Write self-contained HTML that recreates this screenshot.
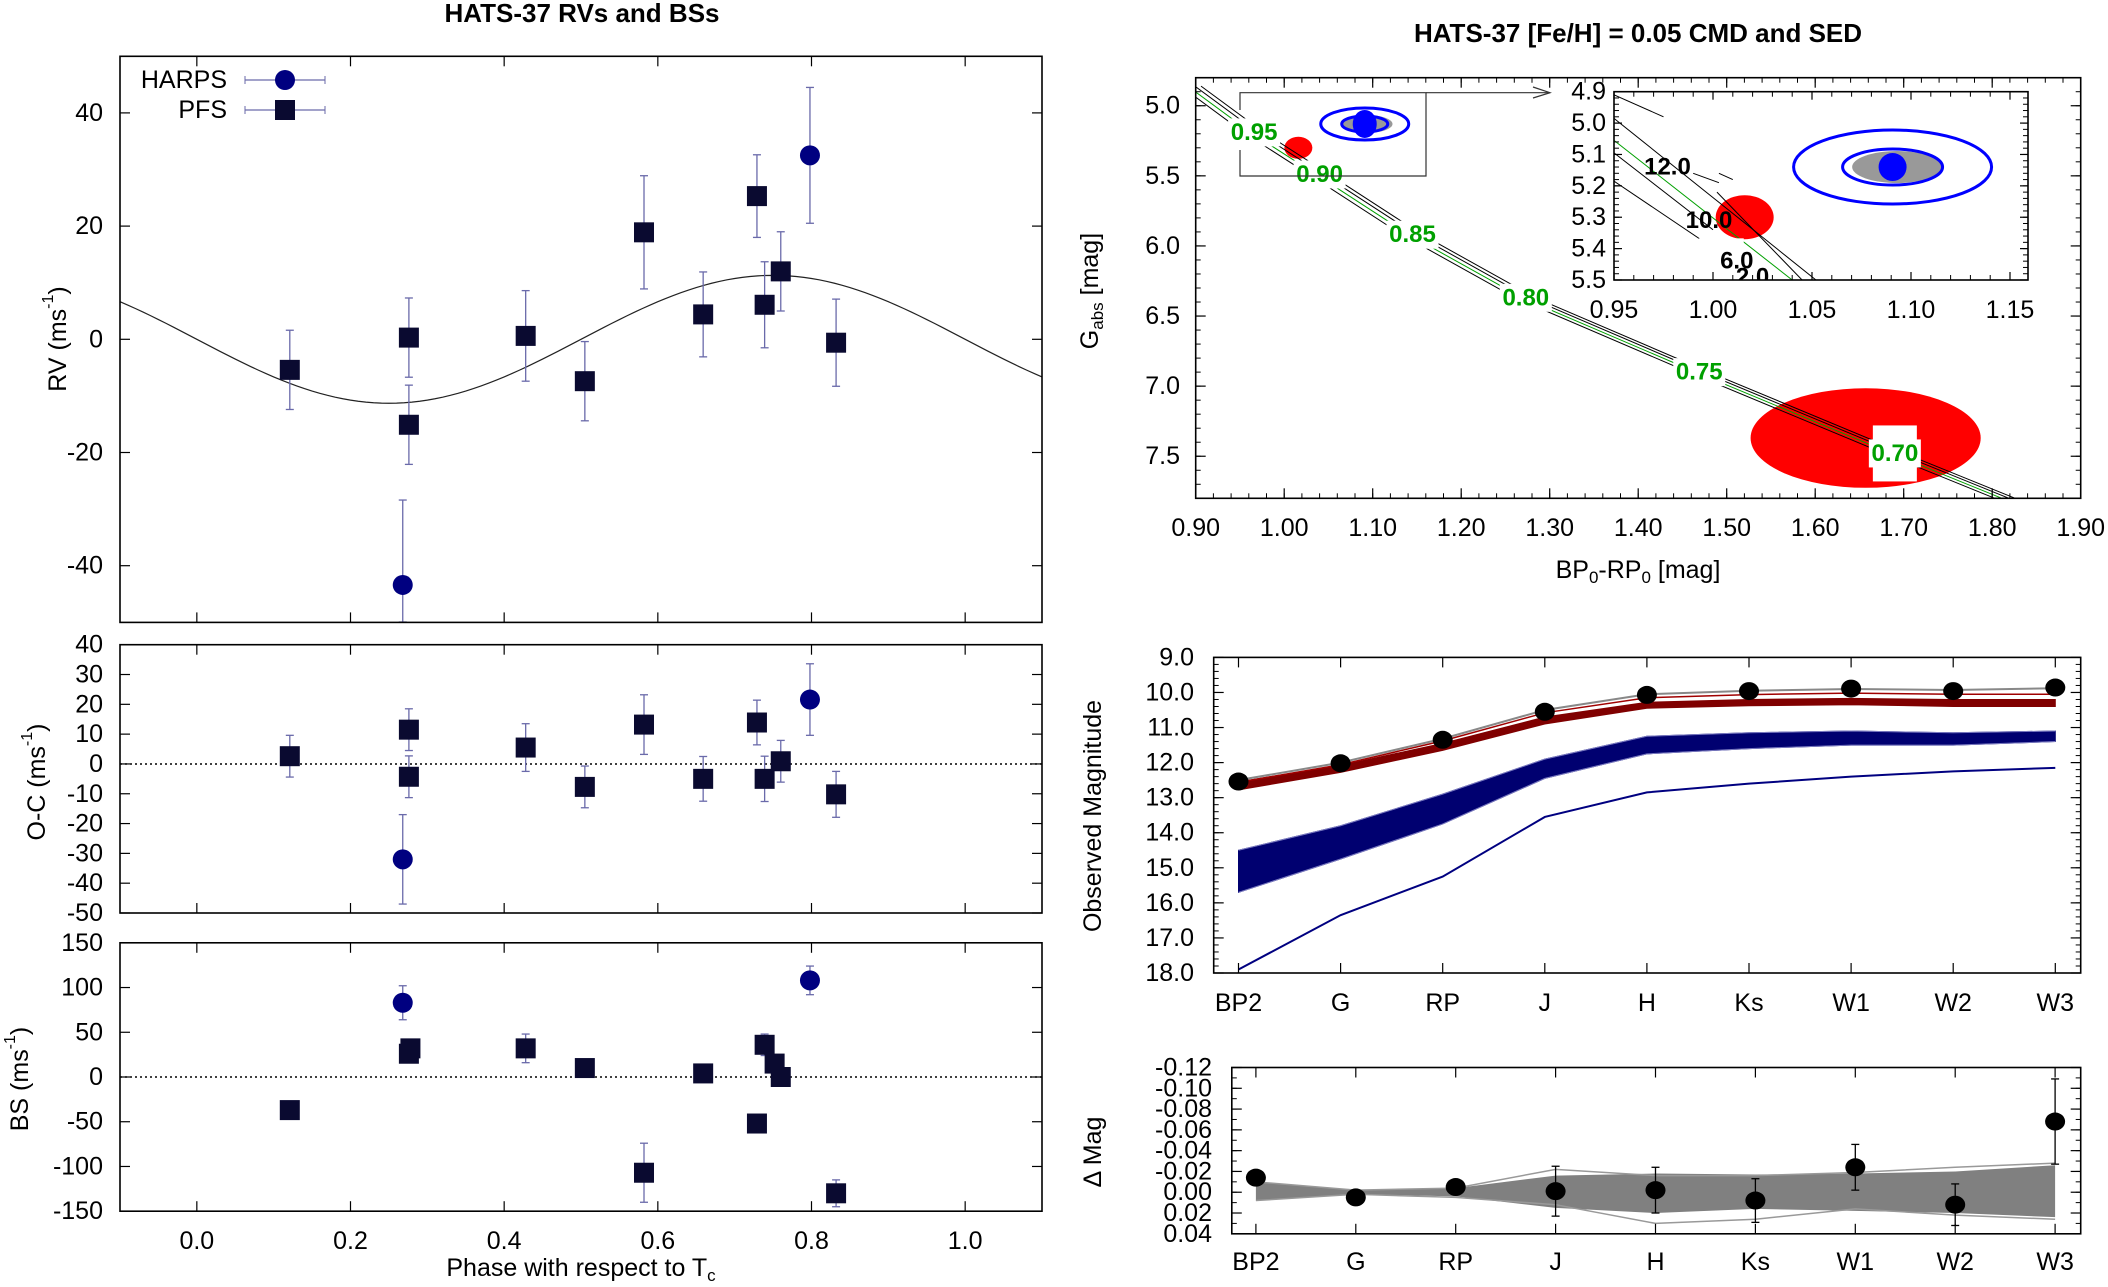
<!DOCTYPE html>
<html><head><meta charset="utf-8">
<style>
html,body{margin:0;padding:0;background:#fff;}
svg{display:block;font-family:"Liberation Sans",sans-serif;}
</style></head>
<body>
<svg id="fig" width="2108" height="1287" viewBox="0 0 2108 1287" xmlns="http://www.w3.org/2000/svg">
<text x="582" y="22" font-size="26" font-weight="bold" text-anchor="middle">HATS-37 RVs and BSs</text>
<text x="1638" y="42" font-size="26" font-weight="bold" text-anchor="middle">HATS-37 [Fe/H] = 0.05 CMD and SED</text>
</svg>
<script>
// ---------- RV data ----------
const pfsPhase = [0.121,0.276,0.276,0.428,0.505,0.582,0.659,0.729,0.739,0.760,0.832];
const pfsRV    = [-5.4,0.3,-15.1,0.6,-7.4,18.9,4.4,25.3,6.1,12.0,-0.6];
const pfsRVErr = [7,7,7,8,7,10,7.5,7.3,7.6,7,7.7];
const harpsPhase = [0.268,0.798];
const harpsRV    = [-43.4,32.5];
const harpsRVErr = [15,12];
const modelK = 11.3;
const pfsOC    = [2.6,-4.3,11.5,5.5,-7.7,13.2,-5.0,13.9,-5.0,0.9,-10.2];
const pfsOCErr = [7,7,7,8,7,10,7.5,7.5,7.6,7,7.7];
const harpsOC    = [-32.0,21.6];
const harpsOCErr = [15,12];
const pfsBSPhase = [0.121,0.276,0.278,0.428,0.505,0.582,0.659,0.729,0.739,0.752,0.760,0.832];
const pfsBS      = [-37,26,32,32,10,-107,4,-52,36,15,0,-130];
const pfsBSErr   = [5,5,5,16,6,33,3,3,12,3,3,15];
const harpsBS    = [83,108];
const harpsBSErr = [19,16];
const phaseTicks = [0.0,0.2,0.4,0.6,0.8,1.0];
const rvTicks = [40,20,0,-20,-40];
const ocTicks = [40,30,20,10,0,-10,-20,-30,-40,-50];
const bsTicks = [150,100,50,0,-50,-100,-150];
// ---------- CMD data ----------
const cmdXTicks = [0.90,1.00,1.10,1.20,1.30,1.40,1.50,1.60,1.70,1.80,1.90];
const cmdYTicks = [5.0,5.5,6.0,6.5,7.0,7.5];
const trackColor = [0.895,0.966,1.04,1.145,1.273,1.469,1.69,1.815];
const trackMag   = [4.86,5.19,5.49,5.92,6.37,6.90,7.48,7.80];
const trackOffsets = [-0.012,-0.004,0.004,0.011];
const massLabels = ["0.95","0.90","0.85","0.80","0.75","0.70"];
const massColor  = [0.966,1.04,1.145,1.273,1.469,1.69];
const massMag    = [5.19,5.49,5.92,6.37,6.90,7.48];
const insetXTicks = [0.95,1.00,1.05,1.10,1.15];
const insetYTicks = [4.9,5.0,5.1,5.2,5.3,5.4,5.5];
const ageLabels = ["12.0","10.0","6.0","2.0"];
const ageColor  = [0.977,0.998,1.012,1.020];
const ageMag    = [5.14,5.31,5.44,5.49];
// ---------- SED data ----------
const bands = ["BP2","G","RP","J","H","Ks","W1","W2","W3"];
const obsMag = [12.54,12.02,11.35,10.55,10.07,9.96,9.89,9.96,9.86];
const grayMag = [12.50,12.00,11.32,10.50,10.05,9.95,9.90,9.93,9.88];
const redThin = [12.56,12.06,11.38,10.58,10.15,10.06,10.02,10.05,10.05];
const redTop  = [12.55,12.08,11.45,10.70,10.28,10.20,10.17,10.20,10.20];
const redBot  = [12.78,12.28,11.65,10.90,10.45,10.38,10.35,10.40,10.40];
const blueTop = [14.5,13.8,12.9,11.9,11.25,11.15,11.1,11.15,11.1];
const blueBot = [15.7,14.75,13.75,12.45,11.75,11.6,11.5,11.5,11.4];
const blueLine = [17.9,16.35,15.25,13.55,12.85,12.6,12.4,12.25,12.15];
const sedTicks = [9,10,11,12,13,14,15,16,17,18];
const resid = [-0.014,0.005,-0.005,-0.001,-0.002,0.008,-0.024,0.012,-0.068];
const residErr = [0,0,0,0.024,0.022,0.021,0.022,0.020,0.041];
const bandUp  = [-0.010,-0.002,-0.004,-0.016,-0.018,-0.017,-0.018,-0.020,-0.026];
const bandLo  = [0.008,0.002,0.004,0.015,0.020,0.016,0.018,0.020,0.024];
const outUp   = [-0.010,-0.002,-0.004,-0.022,-0.016,-0.016,-0.019,-0.024,-0.028];
const outLo   = [0.008,0.002,0.005,0.012,0.030,0.026,0.016,0.022,0.026];
const residTicks = [-0.12,-0.10,-0.08,-0.06,-0.04,-0.02,0.00,0.02,0.04];

const svg = document.getElementById('fig');
const NS = 'http://www.w3.org/2000/svg';
function mk(tag, attrs, parent){ const e=document.createElementNS(NS,tag); for(const k in attrs) e.setAttribute(k,attrs[k]); (parent||svg).appendChild(e); return e; }
function txt(s,x,y,size,anchor,extra){ const t=mk('text',Object.assign({x:x,y:y,'font-size':size,'text-anchor':anchor||'middle','dominant-baseline':'central'},extra||{})); t.textContent=s; return t; }

function frame(name,L,R,T,B,xt,X,yt,Y,xminor,yminor,tl){
  const g=mk('g',{});
  
  
  tl=tl||10;
  xt.forEach(v=>{const x=X(v); mk('line',{x1:x,x2:x,y1:B,y2:B-tl,stroke:'#000','stroke-width':1.2},g); mk('line',{x1:x,x2:x,y1:T,y2:T+tl,stroke:'#000','stroke-width':1.2},g);});
  yt.forEach(v=>{const y=Y(v); mk('line',{x1:L,x2:L+tl,y1:y,y2:y,stroke:'#000','stroke-width':1.2},g); mk('line',{x1:R,x2:R-tl,y1:y,y2:y,stroke:'#000','stroke-width':1.2},g);});
  (xminor||[]).forEach(v=>{const x=X(v); mk('line',{x1:x,x2:x,y1:B,y2:B-5,stroke:'#000','stroke-width':1},g); mk('line',{x1:x,x2:x,y1:T,y2:T+5,stroke:'#000','stroke-width':1},g);});
  (yminor||[]).forEach(v=>{const y=Y(v); mk('line',{x1:L,x2:L+5,y1:y,y2:y,stroke:'#000','stroke-width':1},g); mk('line',{x1:R,x2:R-5,y1:y,y2:y,stroke:'#000','stroke-width':1},g);});
  mk('rect',{x:L,y:T,width:R-L,height:B-T,fill:'none',stroke:'#000','stroke-width':1.6},g);
  return g;
}
function ebar(x,y1,y2,col){
  mk('line',{x1:x,x2:x,y1:y1,y2:y2,stroke:col,'stroke-width':1.3});
  mk('line',{x1:x-4,x2:x+4,y1:y1,y2:y1,stroke:col,'stroke-width':1.3});
  mk('line',{x1:x-4,x2:x+4,y1:y2,y2:y2,stroke:col,'stroke-width':1.3});
}
const EB='#6a6aaa';

// ================= LEFT PANELS =================
const LL=120, LR=1042;
const PX = p => LL+(p+0.1)/1.2*(LR-LL);
const Y1 = v => 56.3+(50-v)/100*566;
const Y2 = v => 644.7+(40-v)/90*268.3;
const Y3 = v => 942.8+(150-v)/300*268.4;

let d;
let pts='';
for(let i=0;i<=120;i++){ const p=-0.1+i*0.01; pts+=PX(p)+','+Y1(-modelK*Math.sin(2*Math.PI*p))+' '; }
d=mk('polyline',{points:pts,fill:'none',stroke:'#222','stroke-width':1.2});


pfsPhase.forEach((p,i)=>{
  ebar(PX(p),Y1(pfsRV[i]+pfsRVErr[i]),Y1(pfsRV[i]-pfsRVErr[i]),EB);
  const r=mk('rect',{x:PX(p)-10,y:Y1(pfsRV[i])-10,width:20,height:20,fill:'#0a0a30'});
  
  
});
harpsPhase.forEach((p,i)=>{
  ebar(PX(p),Math.max(56,Y1(harpsRV[i]+harpsRVErr[i])),Math.min(622,Y1(harpsRV[i]-harpsRVErr[i])),EB);
  const c=mk('ellipse',{cx:PX(p),cy:Y1(harpsRV[i]),rx:10,ry:10,fill:'#000080'});
  
  
});
frame('rv-axes',LL,LR,56.3,622.4,phaseTicks,PX,rvTicks,Y1);
rvTicks.forEach(v=>{const t=txt(String(v),103,Y1(v),25,'end');  });
d=txt('',58,339,25,'middle',{transform:'rotate(-90 58 339)'});
d.innerHTML='RV (ms<tspan font-size="16" dy="-10">-1</tspan><tspan dy="10">)</tspan>';


d=txt('HARPS',227,80,25,'end');


d=txt('PFS',227,110,25,'end');


[80,110].forEach(y=>{mk('line',{x1:245,x2:325,y1:y,y2:y,stroke:EB,'stroke-width':1.3});mk('line',{x1:245,x2:245,y1:y-4,y2:y+4,stroke:EB});mk('line',{x1:325,x2:325,y1:y-4,y2:y+4,stroke:EB});});
d=mk('ellipse',{cx:285,cy:80,rx:10,ry:10,fill:'#000080'});


d=mk('rect',{x:275,y:100,width:20,height:20,fill:'#0a0a30'});



// O-C panel
d=mk('line',{x1:LL,x2:LR,y1:Y2(0),y2:Y2(0),stroke:'#000','stroke-width':1.5,'stroke-dasharray':'2,3'});


pfsPhase.forEach((p,i)=>{
  ebar(PX(p),Y2(pfsOC[i]+pfsOCErr[i]),Y2(pfsOC[i]-pfsOCErr[i]),EB);
  const r=mk('rect',{x:PX(p)-10,y:Y2(pfsOC[i])-10,width:20,height:20,fill:'#0a0a30'});
  
  
});
harpsPhase.forEach((p,i)=>{
  ebar(PX(p),Y2(harpsOC[i]+harpsOCErr[i]),Y2(harpsOC[i]-harpsOCErr[i]),EB);
  const c=mk('ellipse',{cx:PX(p),cy:Y2(harpsOC[i]),rx:10,ry:10,fill:'#000080'});
  
  
});
frame('oc-axes',LL,LR,644.7,913,phaseTicks,PX,ocTicks,Y2);
ocTicks.forEach(v=>{const t=txt(String(v),103,Y2(v),25,'end');  });
d=txt('',37,782,25,'middle',{transform:'rotate(-90 37 782)'});
d.innerHTML='O-C (ms<tspan font-size="16" dy="-10">-1</tspan><tspan dy="10">)</tspan>';



// BS panel
d=mk('line',{x1:LL,x2:LR,y1:Y3(0),y2:Y3(0),stroke:'#000','stroke-width':1.5,'stroke-dasharray':'2,3'});


pfsBSPhase.forEach((p,i)=>{
  ebar(PX(p),Y3(pfsBS[i]+pfsBSErr[i]),Y3(pfsBS[i]-pfsBSErr[i]),EB);
  const r=mk('rect',{x:PX(p)-10,y:Y3(pfsBS[i])-10,width:20,height:20,fill:'#0a0a30'});
  
  
});
harpsPhase.forEach((p,i)=>{
  ebar(PX(p),Y3(harpsBS[i]+harpsBSErr[i]),Y3(harpsBS[i]-harpsBSErr[i]),EB);
  const c=mk('ellipse',{cx:PX(p),cy:Y3(harpsBS[i]),rx:10,ry:10,fill:'#000080'});
  
  
});
frame('bs-axes',LL,LR,942.8,1211.2,phaseTicks,PX,bsTicks,Y3);
bsTicks.forEach(v=>{const t=txt(String(v),103,Y3(v),25,'end');  });
phaseTicks.forEach(v=>{const t=txt(v.toFixed(1),PX(v),1241,25,'middle');  });
d=txt('',20,1079,25,'middle',{transform:'rotate(-90 20 1079)'});
d.innerHTML='BS (ms<tspan font-size="16" dy="-10">-1</tspan><tspan dy="10">)</tspan>';


d=txt('',581,1268,25,'middle');
d.innerHTML='Phase with respect to T<tspan font-size="17" dy="7">c</tspan>';



// ================= CMD =================
const CL=1195.7, CR=2080.7, CT=77.7, CB=498.3;
const CX = c => CL+(c-0.9)*885;
const CY = g => CT+(g-4.8)/3.0*(CB-CT);
const cmdClip=mk('clipPath',{id:'cmdclip'}); mk('rect',{x:CL,y:CT,width:CR-CL,height:CB-CT},cmdClip);
const cg=mk('g',{'clip-path':'url(#cmdclip)'});


d=mk('ellipse',{cx:CX(1.657),cy:CY(7.37),rx:0.13*885,ry:0.355/3*420.6,fill:'#ff0000'},cg);


d=mk('ellipse',{cx:CX(1.016),cy:CY(5.30),rx:14,ry:11,fill:'#ff0000'},cg);


trackOffsets.forEach((o,k)=>{
  const p=trackColor.map((c,i)=>CX(c+o)+','+CY(trackMag[i])).join(' ');
  const l=mk('polyline',{points:p,fill:'none',stroke:k==1?'#00a000':'#000','stroke-width':1},cg);
  
  
});
massLabels.forEach((s,i)=>{
  const x=CX(massColor[i]), y=CY(massMag[i]);
  mk('rect',{x:x-26,y:y-14,width:52,height:28,fill:'#fff'},cg);
  const t=txt(s,x,y,24,'middle',{fill:'#00a000','font-weight':'bold'});
  cg.appendChild(t);
  
  
});
mk('rect',{x:CX(1.69)-22,y:CY(7.48)-28,width:44,height:56,fill:'#fff'},cg);
d=txt('0.70',CX(1.69),CY(7.48),24,'middle',{fill:'#00a000','font-weight':'bold'});
cg.appendChild(d);


d=mk('ellipse',{cx:CX(1.091),cy:CY(5.13),rx:44,ry:16,fill:'none',stroke:'#0000ff','stroke-width':3},cg);


mk('ellipse',{cx:CX(1.093),cy:CY(5.13),rx:26,ry:9,fill:'#999'},cg);
mk('ellipse',{cx:CX(1.091),cy:CY(5.13),rx:23,ry:8,fill:'none',stroke:'#0000ff','stroke-width':3},cg);
d=mk('ellipse',{cx:CX(1.091),cy:CY(5.13),rx:12,ry:14,fill:'#0000ff'},cg);


d=mk('polyline',{points:`1240,110 1240,92.7 1426,92.7 1426,176 1240,176 1240,150`,fill:'none',stroke:'#333','stroke-width':1.2});


d=mk('polyline',{points:`1426,92.7 1550,92.7`,fill:'none',stroke:'#333','stroke-width':1.2});


mk('polyline',{points:`1533,87 1550,92.7 1533,98`,fill:'none',stroke:'#333','stroke-width':1.2});
const cxMinor=[]; for(let v=0.92;v<1.9;v+=0.02) cxMinor.push(+v.toFixed(2));
const cyMinor=[]; for(let v=4.8;v<=7.8;v+=0.1) cyMinor.push(+v.toFixed(1));
frame('cmd-axes',CL,CR,CT,CB,cmdXTicks,CX,cmdYTicks,CY,cxMinor,cyMinor,10);
cmdXTicks.forEach(v=>{const t=txt(v.toFixed(2),CX(v),528,25,'middle');  });
cmdYTicks.forEach(v=>{const t=txt(v.toFixed(1),1180,CY(v),25,'end');  });
d=txt('',1090,291,25,'middle',{transform:'rotate(-90 1090 291)'});
d.innerHTML='G<tspan font-size="17" dy="7">abs</tspan><tspan dy="-7"> [mag]</tspan>';


d=txt('',1638,570,25,'middle');
d.innerHTML='BP<tspan font-size="17" dy="7">0</tspan><tspan dy="-7">-RP</tspan><tspan font-size="17" dy="7">0</tspan><tspan dy="-7"> [mag]</tspan>';



// ---- inset ----
const IL=1614, IR=2028, IT=91.7, IB=280;
const IX = c => IL+(c-0.95)/0.2*396;
const IY = g => IT+(g-4.9)/0.6*(IB-IT);
d=mk('rect',{x:IL,y:IT,width:IR-IL,height:IB-IT,fill:'#fff'});


const icl=mk('clipPath',{id:'iclip'}); mk('rect',{x:IL,y:IT,width:IR-IL,height:IB-IT},icl);
const ig=mk('g',{'clip-path':'url(#iclip)'});
d=mk('ellipse',{cx:IX(1.016),cy:IY(5.30),rx:29,ry:22,fill:'#ff0000'},ig);


const insetLines=[[[0.95,4.91],[0.975,4.98]],[[0.95,4.985],[1.052,5.5]],[[0.95,5.095],[1.0,5.34]],[[0.95,5.185],[1.01,5.44]],[[0.95,5.055],[1.04,5.5]],[[0.99,5.16],[1.003,5.19]],[[1.003,5.16],[1.01,5.18]],[[1.002,5.22],[1.045,5.5]]];
insetLines.forEach((seg,k)=>{
  const l=mk('line',{x1:IX(seg[0][0]),y1:IY(seg[0][1]),x2:IX(seg[1][0]),y2:IY(seg[1][1]),stroke:k==4?'#00a000':'#000','stroke-width':1},ig);
  
  
});
mk('rect',{x:IX(1.013)-40,y:IY(5.38)-4,width:45,height:38,fill:'#fff'},ig);
ageLabels.forEach((s,i)=>{
  const t=txt(s,IX(ageColor[i]),IY(ageMag[i]),24,'middle',{'font-weight':'bold'});
  ig.appendChild(t);
  
  
});
mk('ellipse',{cx:IX(1.0907),cy:IY(5.14),rx:99,ry:37,fill:'none',stroke:'#0000ff','stroke-width':3},ig);
mk('ellipse',{cx:IX(1.093),cy:IY(5.14),rx:45,ry:16,fill:'#999'},ig);
mk('ellipse',{cx:IX(1.0907),cy:IY(5.14),rx:50,ry:18,fill:'none',stroke:'#0000ff','stroke-width':3},ig);
d=mk('ellipse',{cx:IX(1.0907),cy:IY(5.14),rx:14,ry:14,fill:'#0000ff'},ig);


const ixMinor=[]; for(let v=0.96;v<1.16;v+=0.01) ixMinor.push(+v.toFixed(2));
const iyMinor=[]; for(let v=4.9;v<=5.5;v+=0.02) iyMinor.push(+v.toFixed(2));
frame('inset-axes',IL,IR,IT,IB,insetXTicks,IX,insetYTicks,IY,ixMinor,iyMinor,8);
insetXTicks.forEach(v=>{const t=txt(v.toFixed(2),IX(v),310,25,'middle');  });
insetYTicks.forEach(v=>{const t=txt(v.toFixed(1),1606,IY(v),25,'end');  });

// ================= SED =================
const SL=1213.7, SR=2080.7, ST=657.4, SB=973;
const SX = i => 1238.5+i*102.1;
const SY = m => ST+(m-9)/9*(SB-ST);
function band(top,bot,col,name){
  const p=top.map((m,i)=>SX(i)+','+SY(m)).concat(bot.map((m,i)=>SX(i)+','+SY(m)).reverse()).join(' ');
  const e=mk('polygon',{points:p,fill:col,stroke:col,'stroke-width':1});
  
  
}
function sline(arr,col,w,name){
  const e=mk('polyline',{points:arr.map((m,i)=>SX(i)+','+SY(m)).join(' '),fill:'none',stroke:col,'stroke-width':w});
  
  
}
band(blueTop,blueBot,'#000070','sed-blue-band');
sline(blueTop,'#7a7ac0',1,'sed-blue-band-edge');
sline(blueBot,'#7a7ac0',1,'sed-blue-band-edge');
sline(blueLine,'#000080',2,'sed-blue-line');
band(redTop,redBot,'#800000','sed-red-band');
sline(grayMag,'#888',2,'sed-gray-line');
sline(redThin,'#a00000',1.5,'sed-red-thin-line');
obsMag.forEach((m,i)=>{
  const c=mk('ellipse',{cx:SX(i),cy:SY(m),rx:10,ry:9,fill:'#000'});
  
  
});
const sMinor=[]; for(let v=9.2;v<18;v+=0.2) sMinor.push(+v.toFixed(1));
frame('sed-axes',SL,SR,ST,SB,bands.map((b,i)=>i),SX,sedTicks,SY,[],sMinor,10);
bands.forEach((b,i)=>{const t=txt(b,SX(i),1003,25,'middle');  });
sedTicks.forEach(v=>{const t=txt(v.toFixed(1),1194,SY(v),25,'end');  });
d=txt('Observed Magnitude',1093,816,25,'middle',{transform:'rotate(-90 1093 816)'});



// ---- residuals ----
const RL=1231.8, RR=2080.7, RT=1067.5, RB=1233.8;
const RX = i => 1255.9+i*99.9;
const RY = v => RT+(v+0.12)/0.16*(RB-RT);
const rcl=mk('clipPath',{id:'rclip'}); mk('rect',{x:RL,y:RT,width:RR-RL,height:RB-RT},rcl);
const rg=mk('g',{'clip-path':'url(#rclip)'});
d=mk('polygon',{points:bandUp.map((v,i)=>RX(i)+','+RY(v)).concat(bandLo.map((v,i)=>RX(i)+','+RY(v)).reverse()).join(' '),fill:'#808080'},rg);


[outUp,outLo].forEach(arr=>{
  const l=mk('polyline',{points:arr.map((v,i)=>RX(i)+','+RY(v)).join(' '),fill:'none',stroke:'#999','stroke-width':1.5},rg);
  
  
});
resid.forEach((v,i)=>{
  if(residErr[i]>0) ebar(RX(i),RY(v-residErr[i]),RY(v+residErr[i]),'#000');
  const c=mk('ellipse',{cx:RX(i),cy:RY(v),rx:10,ry:9,fill:'#000'});
  
  
});
const rMinor=[]; for(let v=-0.11;v<0.04;v+=0.01) rMinor.push(+v.toFixed(2));
frame('resid-axes',RL,RR,RT,RB,bands.map((b,i)=>i),RX,residTicks,RY,[],rMinor,10);
bands.forEach((b,i)=>{const t=txt(b,RX(i),1262,25,'middle');  });
residTicks.forEach(v=>{const t=txt((v<0?'-':'')+Math.abs(v).toFixed(2),1212,RY(v),25,'end');  });
d=txt('\u0394 Mag',1093,1152,25,'middle',{transform:'rotate(-90 1093 1152)'});


</script>
</body></html>
